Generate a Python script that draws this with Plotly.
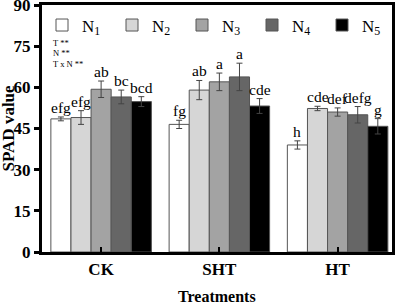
import plotly.graph_objects as go

treatments = ["CK", "SHT", "HT"]
series_names = ["N<sub>1</sub>", "N<sub>2</sub>", "N<sub>3</sub>", "N<sub>4</sub>", "N<sub>5</sub>"]
colors = ["#ffffff", "#d6d6d6", "#a3a3a3", "#666666", "#000000"]

n1 = [48.5, 46.5, 39.0]
n2 = [49.0, 59.0, 52.3]
n3 = [59.3, 62.0, 51.0]
n4 = [56.5, 63.8, 50.0]
n5 = [54.8, 53.2, 45.8]
values = [n1, n2, n3, n4, n5]

e1 = [0.7, 1.5, 1.5]
e2 = [2.5, 3.5, 0.8]
e3 = [3.0, 3.2, 1.5]
e4 = [2.5, 5.0, 3.0]
e5 = [1.8, 2.7, 2.8]
errors = [e1, e2, e3, e4, e5]

l1 = ["efg", "fg", "h"]
l2 = ["efg", "ab", "cde"]
l3 = ["ab", "a", "def"]
l4 = ["bc", "a", "defg"]
l5 = ["bcd", "cde", "g"]
letters = [l1, l2, l3, l4, l5]

stats_text = ["T **", "N **", "T x N **"]
y_ticks = [0, 15, 30, 45, 60, 75, 90]

bargap = 0.15
serif = "Liberation Serif"
legend_ids = ["legend", "legend2", "legend3", "legend4", "legend5"]

fig = go.Figure()
for i in range(5):
    fig.add_trace(go.Bar(
        x=treatments, y=values[i], name=series_names[i], legend=legend_ids[i],
        marker=dict(color=colors[i], line=dict(color="#555555", width=1)),
        error_y=dict(type="data", array=errors[i], visible=True,
                     color="#444444", thickness=1, width=3),
    ))

w = (1 - bargap) / 5
annotations = []
for i in range(5):
    for g in range(3):
        annotations.append(dict(
            x=g + (i - 2) * w, y=values[i][g] + errors[i][g],
            xref="x", yref="y", text=letters[i][g], showarrow=False,
            yanchor="bottom", xanchor="center", yshift=-1,
            font=dict(family=serif, size=15.5, color="black")))

for k, t in enumerate(stats_text):
    annotations.append(dict(
        x=0.025, y=0.845 - k * 0.041, xref="paper", yref="paper", text=t,
        showarrow=False, xanchor="left", yanchor="middle",
        font=dict(family=serif, size=8.5, color="black")))

annotations.append(dict(
    x=0.5, y=0, xref="paper", yref="paper", text="<b>Treatments</b>",
    showarrow=False, xanchor="center", yanchor="middle", yshift=-44,
    font=dict(family=serif, size=16, color="black")))

annotations.append(dict(
    x=0, y=0.5, xref="paper", yref="paper", text="<b>SPAD value</b>",
    showarrow=False, xanchor="center", yanchor="middle", xshift=-34, textangle=-90,
    font=dict(family=serif, size=17, color="black")))

legend_layouts = {}
for i, lid in enumerate(legend_ids):
    legend_layouts[lid] = dict(
        orientation="h", x=i * 0.2, y=0.99, xanchor="left", yanchor="top",
        font=dict(family=serif, size=17, color="black"),
        bgcolor="rgba(0,0,0,0)")

fig.update_layout(
    width=400, height=304,
    margin=dict(l=42, r=8, t=5, b=52, autoexpand=False),
    paper_bgcolor="white", plot_bgcolor="white",
    barmode="group", bargap=bargap, bargroupgap=0,
    showlegend=True,
    annotations=annotations,
    xaxis=dict(
        type="category", range=[-0.5, 2.46],
        tickvals=treatments, ticktext=["<b>" + t + "</b>" for t in treatments],
        showline=True, linecolor="black", linewidth=3, mirror=True,
        ticks="inside", ticklen=5, tickwidth=2, tickcolor="black",
        tickfont=dict(family=serif, size=17, color="black"),
        showgrid=False,
    ),
    yaxis=dict(
        range=[0, 90], tickvals=y_ticks, ticktext=["<b>%d</b>" % v for v in y_ticks],
        ticklabeloverflow="allow",
        showline=True, linecolor="black", linewidth=3, mirror=True,
        ticks="outside", ticklen=5, tickwidth=3, tickcolor="black",
        tickfont=dict(family=serif, size=17, color="black"),
        showgrid=False, zeroline=False,
    ),
    **legend_layouts,
)

fig.write_html("out.html", config={"displayModeBar": False},
               post_script="document.body.style.margin='0';")
